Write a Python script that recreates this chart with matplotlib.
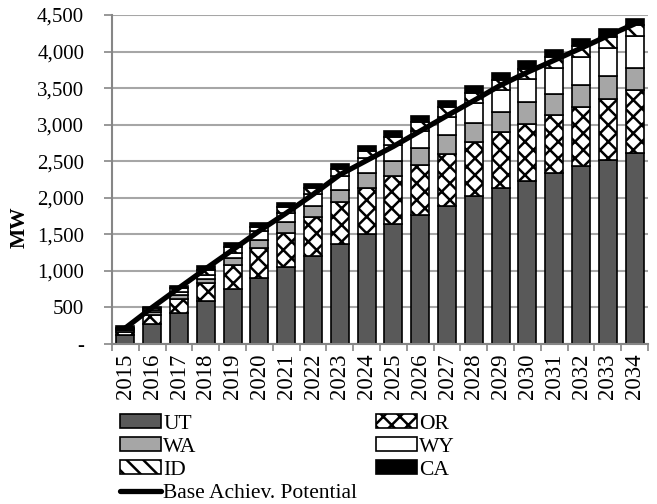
import matplotlib.pyplot as plt
import numpy as np
from matplotlib.lines import Line2D
from matplotlib.patches import Patch
from matplotlib.ticker import FixedLocator, FuncFormatter, MultipleLocator

years = ["2015", "2016", "2017", "2018", "2019", "2020", "2021", "2022", "2023", "2024",
         "2025", "2026", "2027", "2028", "2029", "2030", "2031", "2032", "2033", "2034"]

# MW per state, stacked bottom to top
ut = [123, 275, 430, 590, 750, 900, 1059, 1210, 1365, 1507,
      1639, 1767, 1890, 2018, 2132, 2233, 2338, 2438, 2521, 2612]
or_ = [46, 125, 190, 240, 335, 411, 457, 525, 576, 625,
       653, 685, 713, 740, 767, 781, 790, 804, 831, 858]
wa = [16, 40, 45, 55, 85, 114, 146, 155, 169, 206,
      215, 228, 251, 265, 270, 292, 297, 306, 310, 306]
wy = [15, 30, 50, 60, 70, 115, 128, 160, 190, 202,
      213, 240, 256, 277, 301, 314, 345, 372, 388, 434]
id_ = [20, 20, 45, 70, 80, 65, 80, 85, 95, 100,
       115, 120, 125, 130, 140, 145, 150, 150, 155, 155]
ca = [20, 15, 35, 55, 60, 48, 57, 57, 62, 72,
      83, 83, 94, 95, 98, 103, 98, 104, 106, 87]

base_potential = [219, 500, 767, 1030, 1287, 1548, 1790, 2045, 2315, 2510,
                  2703, 2913, 3123, 3329, 3540, 3717, 3881, 4046, 4215, 4378]

plt.rcParams["font.family"] = ["Liberation Serif", "DejaVu Serif"]
plt.rcParams["font.size"] = 15
# hatch width is global here, so both patterns share it
plt.rcParams["hatch.linewidth"] = 1.8

fig = plt.figure(figsize=(6.57, 5.04), dpi=100)
ax = fig.add_axes([112 / 657, 1 - 344 / 504, 536 / 657, 329 / 504])

x = np.arange(len(years))
width = 0.67
bottom = np.zeros(len(years))

# (values, label, face, hatch)
series = [
    (ut, "UT", "#595959", None),
    (or_, "OR", "white", "xx"),
    (wa, "WA", "#a6a6a6", None),
    (wy, "WY", "white", None),
    (id_, "ID", "white", "\\\\"),
    (ca, "CA", "black", None),
]

handles = {}
for vals, label, face, hatch in series:
    ax.bar(x, vals, width, bottom=bottom, color=face, edgecolor="black",
           linewidth=1.2, hatch=hatch, zorder=2)
    handles[label] = Patch(facecolor=face, edgecolor="black",
                           linewidth=1.2, hatch=hatch)
    bottom += np.array(vals)

ax.plot(x, base_potential, color="black", lw=3.8,
        solid_capstyle="round", zorder=3)

ax.set_xlim(-0.5, len(years) - 0.5)
ax.set_ylim(0, 4500)
ax.yaxis.set_major_locator(MultipleLocator(500))
ax.yaxis.set_major_formatter(
    FuncFormatter(lambda v, pos: "-" if v == 0 else f"{v:,.0f}"))
ax.grid(axis="y", color="#a6a6a6", lw=1.5, zorder=0)
ax.set_axisbelow(True)

ax.set_xticks(x)
ax.set_xticklabels(years, rotation=90, fontsize=16.5)
ax.xaxis.set_minor_locator(FixedLocator(np.arange(-0.5, len(years), 1.0)))
ax.tick_params(axis="x", which="major", length=0, pad=7)
ax.tick_params(axis="x", which="minor", length=5, color="#868686", width=1.2)
ax.tick_params(axis="y", length=6, color="#868686", width=1.2, pad=14)

for side in ["top", "right"]:
    ax.spines[side].set_visible(False)
for side in ["left", "bottom"]:
    ax.spines[side].set_color("#868686")
    ax.spines[side].set_linewidth(1.5)

ax.set_ylabel("MW", fontweight="bold", fontsize=15.5)
ax.yaxis.set_label_coords(-0.153, 0.356)

base_handle = Line2D([], [], color="black", lw=3.8, solid_capstyle="round")
order = [handles["UT"], handles["WA"], handles["ID"], base_handle,
         handles["OR"], handles["WY"], handles["CA"]]
labels = ["UT", "WA", "ID", "Base Achiev. Potential", "OR", "WY", "CA"]
fig.legend(order, labels, ncol=2, loc="upper left", fontsize=15.5,
           bbox_to_anchor=(116 / 657, 1 - 410 / 504), frameon=False,
           handlelength=1.9, handleheight=0.6, handletextpad=0.1,
           columnspacing=0.85, labelspacing=0.17, borderpad=0.2,
           borderaxespad=0)

fig.savefig("out.png", dpi=100)
